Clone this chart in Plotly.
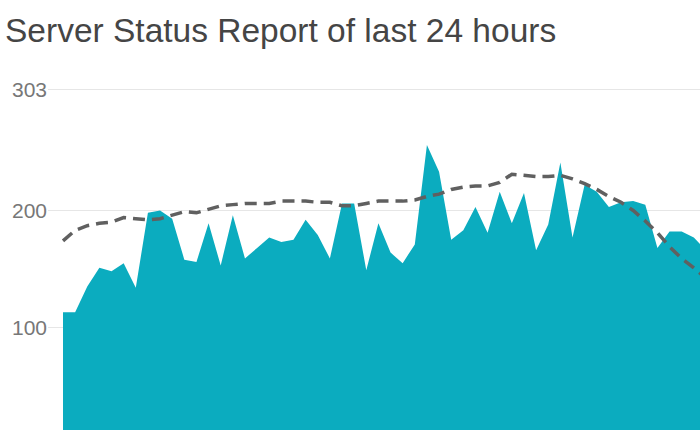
import plotly.graph_objects as go

title_text = "Server Status Report of last 24 hours"

# samples along the time axis (index positions)
requests = [113, 113, 135, 151, 148, 155, 134, 198, 200, 193,
            158, 156, 189, 153, 196, 159, 168, 177, 173, 175,
            192, 179, 159, 206, 206, 149, 189, 164, 155, 171,
            256, 233, 175, 183, 203, 181, 216, 189, 215, 166,
            188, 241, 177, 222, 216, 203, 207, 208, 205, 168,
            182, 182, 177, 166]

trend = [174, 183, 187, 189, 190, 194, 193, 192, 193, 196,
         199, 198, 201, 204, 205, 206, 206, 206, 208, 208,
         208, 207, 207, 204, 204, 206, 208, 208, 208, 209,
         212, 214, 218, 220, 221, 221, 224, 231, 230, 229,
         229, 230, 227, 223, 218, 212, 207, 200, 191, 181,
         169, 159, 151, 142]

tick_vals = [100, 200, 303]
tick_text = ["100", "200", "303"]

x = list(range(len(requests)))

fig = go.Figure()
fig.add_trace(go.Scatter(
    x=x, y=requests, mode="lines", fill="tozeroy",
    line=dict(width=0, color="#0bacbf"), fillcolor="#0bacbf",
    hoverinfo="skip", showlegend=False))
fig.add_trace(go.Scatter(
    x=x, y=trend, mode="lines",
    line=dict(width=3.5, color="#606060", dash="12px,7px"),
    hoverinfo="skip", showlegend=False))

fig.update_layout(
    width=700, height=430,
    margin=dict(l=48, r=0, t=60, b=0),
    paper_bgcolor="white", plot_bgcolor="white",
    font=dict(family="Liberation Sans, Arial, sans-serif"),
    title=dict(text=title_text, xref="container", yref="container",
               x=5 / 700, xanchor="left", y=1 - 30 / 430, yanchor="middle",
               font=dict(size=33.5, color="#454545")),
    xaxis=dict(range=[-1.237, 52.51], showgrid=False, zeroline=False,
               showticklabels=False, showline=False),
    yaxis=dict(range=[12.4, 328.6], tickvals=tick_vals, ticktext=tick_text,
               showgrid=True, gridcolor="#e6e6e6", gridwidth=1,
               zeroline=False, showline=False,
               tickfont=dict(size=21, color="#777777"),
               ticks=""),
)

fig.write_html("out.html", config={"displayModeBar": False},
               post_script="document.body.style.margin='0';document.body.style.overflow='hidden';")
